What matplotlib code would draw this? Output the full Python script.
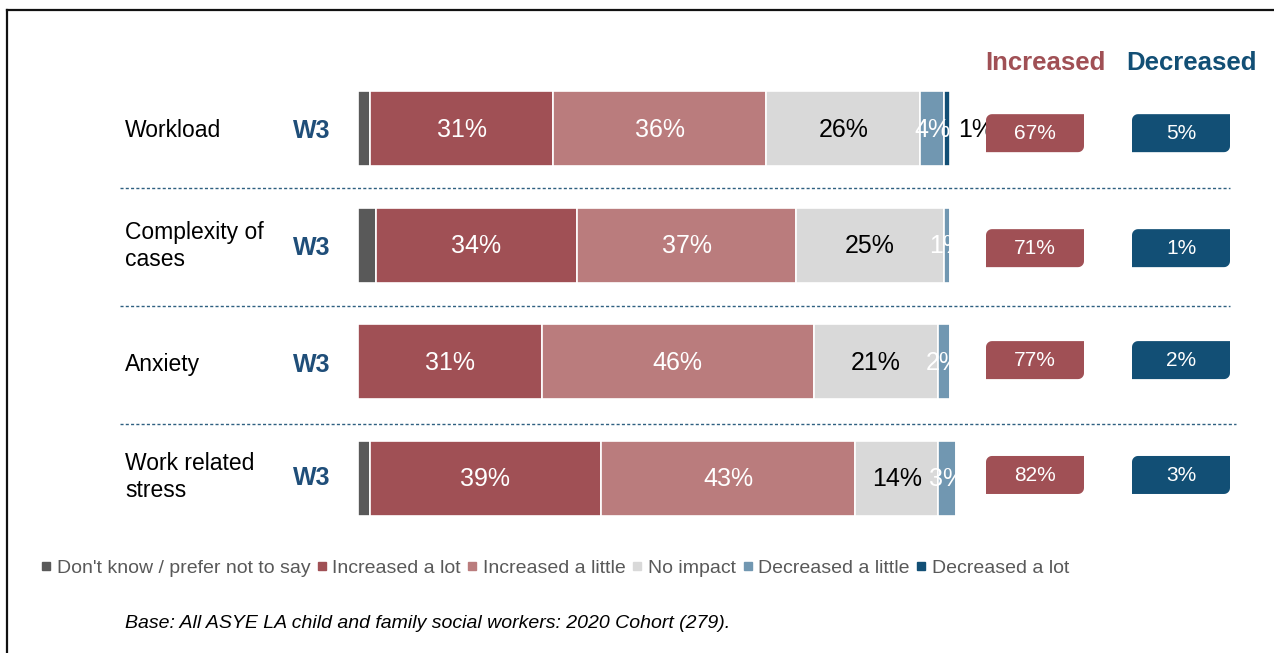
import matplotlib
matplotlib.use("Agg")
import matplotlib.pyplot as plt
import numpy as np
from matplotlib.lines import Line2D
from matplotlib.patches import Polygon
import matplotlib.transforms as mtransforms

plt.rcParams['font.family'] = ['Liberation Sans', 'DejaVu Sans']

# ---------------- data ----------------
categories = ["Workload", "Complexity of\ncases", "Anxiety", "Work related\nstress"]
wave_labels = ["W3", "W3", "W3", "W3"]
series_names = ["Don't know / prefer not to say", "Increased a lot", "Increased a little",
                "No impact", "Decreased a little", "Decreased a lot"]
dont_know = [2, 3, 0, 2]
increased_lot = [31, 34, 31, 39]
increased_little = [36, 37, 46, 43]
no_impact = [26, 25, 21, 14]
decreased_little = [4, 1, 2, 3]
decreased_lot = [1, 0, 0, 0]
base_note = "Base: All ASYE LA child and family social workers: 2020 Cohort (279)."

series_values = [dont_know, increased_lot, increased_little, no_impact, decreased_little, decreased_lot]
colors = ["#595959", "#A05055", "#BA7C7D", "#D9D9D9", "#7197B1", "#124F75"]
label_colors = [None, "white", "white", "black", "white", "black"]

increased_total = [a + b for a, b in zip(increased_lot, increased_little)]
decreased_total = [a + b for a, b in zip(decreased_little, decreased_lot)]

# ---------------- figure ----------------
W, H = 1274, 653
fig = plt.figure(figsize=(W / 100, H / 100), dpi=100)

row_sp = 116.5
top_px = 128.5 - row_sp / 2
bot_px = top_px + row_sp * 4
ax_bottom = 1 - bot_px / H
ax_height = (bot_px - top_px) / H

px_per_pct = 5.92
xmax = 110
ax = fig.add_axes([358 / W, ax_bottom, xmax * px_per_pct / W, ax_height])
ax.set_xlim(0, xmax)
ax.set_ylim(len(categories) - 0.5, -0.5)
ax.axis('off')

y = np.arange(len(categories))
bar_h = 75 / row_sp
left = np.zeros(len(categories))
for si, (vals, col) in enumerate(zip(series_values, colors)):
    vals = np.array(vals, dtype=float)
    ax.barh(y, vals, left=left, height=bar_h, color=col, edgecolor='white', linewidth=1.2)
    if label_colors[si] is not None:
        for i, v in enumerate(vals):
            if v <= 0:
                continue
            if si == 5:
                ax.text(left[i] + v + 1.3, y[i] + 0.01, f"{int(v)}%", ha='left', va='center',
                        fontsize=18, color=label_colors[si], clip_on=False)
            else:
                ax.text(left[i] + v / 2, y[i] + 0.01, f"{int(v)}%", ha='center', va='center',
                        fontsize=18, color=label_colors[si], clip_on=False)
    left = left + vals

# category labels and wave labels
blend = mtransforms.blended_transform_factory(fig.transFigure, ax.transData)
cat_dy = [0.02, 0.01, 0.03, -0.01]
w3_dy = [0.025, 0.025, 0.03, 0.0]
for i, (cat, wl) in enumerate(zip(categories, wave_labels)):
    t = fig.text(125 / W, 0, cat, transform=blend, ha='left', va='center', fontsize=16.5,
                 color='black', linespacing=1.25)
    t.set_y(y[i] + cat_dy[i])
    t2 = fig.text(312 / W, 0, wl, transform=blend, ha='center', va='center', fontsize=18,
                  fontweight='bold', color='#1F4E79')
    t2.set_y(y[i] + w3_dy[i])

# separators
sep_pos = [0.51, 1.52, 2.535]
sep_ends = [1230, 1230, 1236]
for sp, xe in zip(sep_pos, sep_ends):
    fig.add_artist(Line2D([120 / W, xe / W], [sp, sp], transform=blend, color='#2E6080',
                          linewidth=1.0, linestyle=(0, (2.2, 1.6))))

# summary boxes
ax2 = fig.add_axes([960 / W, ax_bottom, 314 / W, ax_height])
ax2.set_xlim(0, 314)
ax2.set_ylim(len(categories) - 0.5, -0.5)
ax2.axis('off')

def diag_round_box(axis, xc, yc, w_px, h_px, r_px, color):
    ry_unit = 1 / row_sp
    x0, x1 = xc - w_px / 2, xc + w_px / 2
    yt, yb = yc - h_px / 2 * ry_unit, yc + h_px / 2 * ry_unit
    ry = r_px * ry_unit
    pts = []
    for t in np.linspace(np.pi, 1.5 * np.pi, 8):
        pts.append((x0 + r_px + r_px * np.cos(t), yt + ry + ry * np.sin(t)))
    pts.append((x1, yt))
    for t in np.linspace(0, 0.5 * np.pi, 8):
        pts.append((x1 - r_px + r_px * np.cos(t), yb - ry + ry * np.sin(t)))
    pts.append((x0, yb))
    axis.add_patch(Polygon(pts, closed=True, facecolor=color, edgecolor='none'))

box_dy = [0.04, 0.027, -0.012, -0.026]
for i in range(len(categories)):
    yc = y[i] + box_dy[i]
    diag_round_box(ax2, 75, yc, 98, 38, 6, "#A05055")
    ax2.text(75, yc + 0.005, f"{increased_total[i]}%", ha='center', va='center', fontsize=15, color='white')
    diag_round_box(ax2, 221, yc, 98, 38, 6, "#124F75")
    ax2.text(221, yc + 0.005, f"{decreased_total[i]}%", ha='center', va='center', fontsize=15, color='white')

fig.text(1045 / W, 1 - 63 / H, "Increased", ha='center', va='center', fontsize=18.5,
         fontweight='bold', color='#A05055')
fig.text(1192 / W, 1 - 63 / H, "Decreased", ha='center', va='center', fontsize=18.5,
         fontweight='bold', color='#124F75')

# legend
handles = [Line2D([], [], marker='s', linestyle='none', markersize=5.5, markerfacecolor=c,
                  markeredgecolor=c) for c in colors]
fig.legend(handles, series_names, loc='center left', bbox_to_anchor=(41 / W, 1 - 568 / H),
           ncol=6, frameon=False, fontsize=14, labelcolor='#595959', handlelength=0.5,
           handletextpad=0.3, columnspacing=0.34, borderpad=0, borderaxespad=0)

fig.text(125 / W, 1 - 624 / H, base_note, ha='left', va='center', fontsize=14,
         style='italic', color='black')

# frame (top and left)
fig.add_artist(Line2D([7 / W, 1], [1 - 10 / H, 1 - 10 / H], transform=fig.transFigure,
                      color='#111111', linewidth=1.6))
fig.add_artist(Line2D([7 / W, 7 / W], [0, 1 - 10 / H], transform=fig.transFigure,
                      color='#111111', linewidth=1.6))

fig.savefig("out.png", dpi=100)
